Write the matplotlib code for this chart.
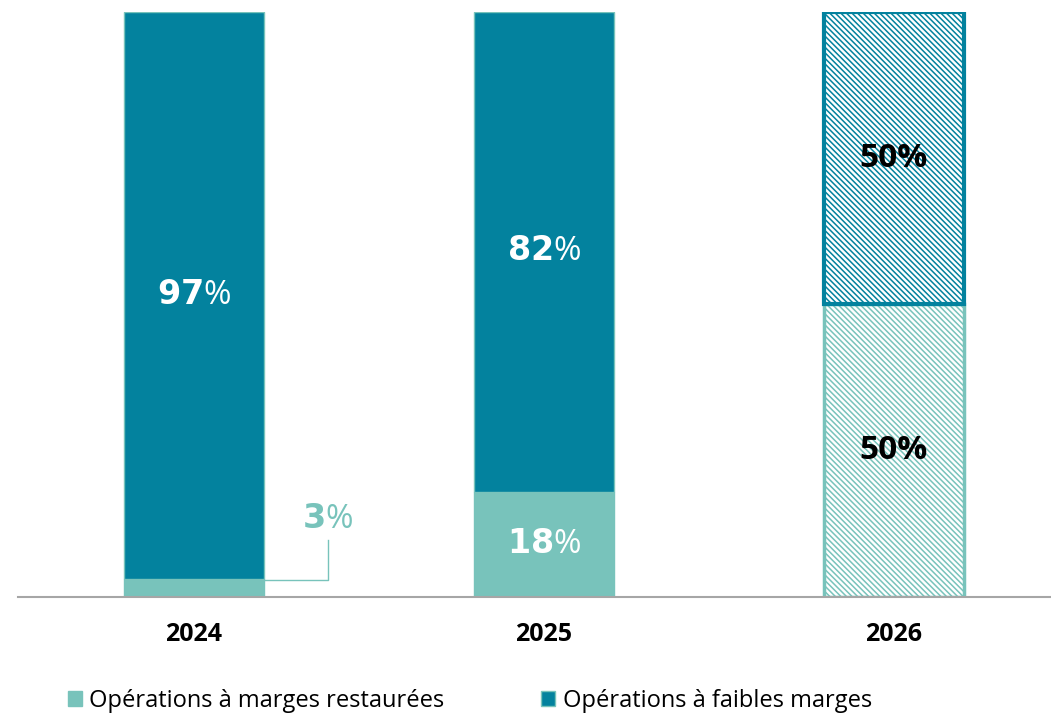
import matplotlib.pyplot as plt
from matplotlib.patches import Patch

years = ['2024', '2025', '2026']
restaurees = [3, 18, 50]
faibles = [97, 82, 50]
projection = [False, False, True]

DARK = '#03829e'
LIGHT = '#78c3bb'

plt.rcParams['font.family'] = ['Open Sans', 'DejaVu Sans']
plt.rcParams['hatch.linewidth'] = 1.1

fig = plt.figure(figsize=(10.51, 7.15), dpi=100)
ax = fig.add_axes([18/1051, 118/715, 1 - 18/1051, 585/715])

HATCH = '\\' * 6
x = range(len(years))
for i in x:
    if projection[i]:
        ax.bar(i, restaurees[i], width=0.4, color='white', edgecolor=LIGHT,
               hatch=HATCH, linewidth=2.5, zorder=2)
        ax.bar(i, faibles[i], bottom=restaurees[i], width=0.4, color='white',
               edgecolor=DARK, hatch=HATCH, linewidth=3, zorder=3)
    else:
        ax.bar(i, restaurees[i], width=0.4, color=LIGHT, edgecolor=LIGHT, linewidth=1, zorder=2)
        ax.bar(i, faibles[i], bottom=restaurees[i], width=0.4, color=DARK,
               edgecolor=LIGHT, linewidth=1, zorder=2)

# labels
FS = 24
for i in x:
    yt = restaurees[i] + faibles[i] / 2
    if projection[i]:
        ax.text(i, yt, f'{faibles[i]}%', ha='center', va='center', fontsize=FS,
                fontweight='bold', color='black', zorder=5)
        ax.text(i, restaurees[i] / 2, f'{restaurees[i]}%', ha='center', va='center',
                fontsize=FS, fontweight='bold', color='black', zorder=5)
    else:
        ax.text(i, yt, f'$\\mathbf{{{faibles[i]}}}$%', ha='center', va='center',
                fontsize=FS, color='white', zorder=5)
        if restaurees[i] >= 10:
            ax.text(i, restaurees[i] / 2, f'$\\mathbf{{{restaurees[i]}}}$%', ha='center',
                    va='center', fontsize=FS, color='white', zorder=5)
        else:
            # leader line for small segment
            ax.plot([i + 0.2, i + 0.383, i + 0.383],
                    [restaurees[i] / 2 + 1.4, restaurees[i] / 2 + 1.4, 9.7],
                    color=LIGHT, linewidth=1, zorder=4)
            ax.text(i + 0.383, 13.2, f'$\\mathbf{{{restaurees[i]}}}$%', ha='center',
                    va='center', fontsize=FS, color=LIGHT, zorder=5)

ax.set_xlim(-0.503, 2.449)
ax.set_ylim(0, 100)
for s in ['top', 'right', 'left']:
    ax.spines[s].set_visible(False)
ax.spines['bottom'].set_color('#a6a6a6')
ax.spines['bottom'].set_linewidth(1.5)
ax.set_yticks([])
ax.set_xticks(list(x))
ax.set_xticklabels(years, fontsize=18, fontweight='bold')
ax.tick_params(axis='x', length=0, pad=18)

handles = [Patch(facecolor=LIGHT, edgecolor=LIGHT, label='Opérations à marges restaurées'),
           Patch(facecolor=DARK, edgecolor=LIGHT, label='Opérations à faibles marges')]
fig.legend(handles=handles, loc='center left', bbox_to_anchor=(68/1051, 14/715), ncol=2,
           frameon=False, fontsize=17, handlelength=0.6, handleheight=0.6,
           handletextpad=0.3, columnspacing=4.1, borderaxespad=0, borderpad=0)

fig.savefig('out.png', dpi=100)
